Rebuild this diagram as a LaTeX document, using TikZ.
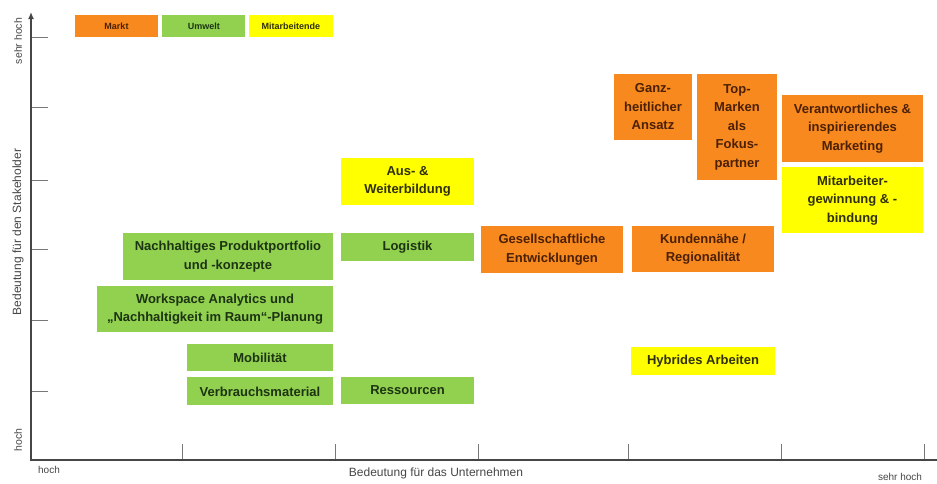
\documentclass[tikz,border=0pt]{standalone}
\usepackage{fontspec}
\setmainfont{Liberation Sans}
\usetikzlibrary{arrows.meta, positioning}
\definecolor{marktorange}{RGB}{247,137,30}
\definecolor{umweltgruen}{RGB}{146,208,80}
\definecolor{mitarbeitergelb}{RGB}{255,255,0}
\definecolor{achsgrau}{RGB}{70,70,70}
\definecolor{tickgrau}{RGB}{120,120,120}
\tikzset{
  feld/.style={rectangle,inner sep=1pt,align=center,font=\bfseries\fontsize{13}{18.5}\selectfont},
  markt/.style={feld,fill=marktorange,text={rgb,255:red,75;green,32;blue,5}},
  umwelt/.style={feld,fill=umweltgruen,text={rgb,255:red,28;green,52;blue,18}},
  mitarbeiter/.style={feld,fill=mitarbeitergelb,text={rgb,255:red,48;green,48;blue,12}},
  legende/.style={font=\bfseries\fontsize{9}{10}\selectfont,minimum width=83pt,minimum height=22pt,inner sep=0pt},
  achse/.style={draw=achsgrau,line width=1.8pt},
  tick/.style={draw=tickgrau,line width=1pt},
  achstext/.style={text=achsgrau,inner sep=0pt}
}

\begin{document}
\begin{tikzpicture}[x=1pt,y=-1pt]
\useasboundingbox (0,0) rectangle (937,483);

\coordinate (ytop) at (31,12);
\coordinate (ursprung) at (31,460);
\coordinate (xend) at (937,460);
\foreach \ty in {37,107,180,249,320,391}
  \draw[tick] (31,\ty) -- (48,\ty);
\foreach \tx in {182,335,478,628,781,924}
  \draw[tick] (\tx,444) -- (\tx,460);
\draw[achse,{Latex[length=7pt,width=6pt]}-] (ytop) -- (ursprung) -- (xend);

\node[achstext,rotate=90,font=\fontsize{10.5}{12}\selectfont] (ysehrhoch) at (18,41) {sehr hoch};
\node[achstext,rotate=90,font=\fontsize{12}{14}\selectfont] (ytitel) at (18,232) {Bedeutung für den Stakeholder};
\node[achstext,rotate=90,font=\fontsize{10.5}{12}\selectfont] (yhoch) at (18,440) {hoch};
\node[achstext,font=\fontsize{10}{12}\selectfont] (xhoch) at (49,470) {hoch};
\node[achstext,font=\fontsize{12}{14}\selectfont] (xtitel) at (436,473) {Bedeutung für das Unternehmen};
\node[achstext,font=\fontsize{10}{12}\selectfont] (xsehrhoch) at (900,477) {sehr hoch};

\node[markt,legende] (lmarkt) at (116.5,26) {Markt};
\node[umwelt,legende,right=4pt of lmarkt] (lumwelt) {Umwelt};
\node[mitarbeiter,legende,minimum width=84pt,right=3pt of lumwelt] (lmitarbeiter) {Mitarbeitende};

\node[umwelt,minimum width=210pt,minimum height=47pt] (portfolio) at (228,256.5) {Nachhaltiges Produktportfolio\\und -konzepte};
\node[umwelt,minimum width=236pt,minimum height=46pt] (workspace) at (215,309) {Workspace Analytics und\\„Nachhaltigkeit im Raum“-Planung};
\node[umwelt,minimum width=146pt,minimum height=27pt] (mobilitaet) at (260,357.5) {Mobilität};
\node[umwelt,minimum width=146pt,minimum height=28pt,below=6pt of mobilitaet] (verbrauch) {Verbrauchsmaterial};
\node[umwelt,minimum width=133pt,minimum height=27pt] (ressourcen) at (407.5,390.5) {Ressourcen};
\node[umwelt,minimum width=133pt,minimum height=28pt] (logistik) at (407.5,247) {Logistik};
\node[mitarbeiter,minimum width=133pt,minimum height=47pt] (bildung) at (407.5,181.5) {Aus- \&\\Weiterbildung};

\node[markt,minimum width=142pt,minimum height=47pt] (gesellschaft) at (552,249.5) {Gesellschaftliche\\Entwicklungen};
\node[markt,minimum width=142pt,minimum height=46pt] (kunden) at (703,249) {Kundennähe /\\Regionalität};
\node[markt,minimum width=78pt,minimum height=66pt] (ganzheit) at (653,107) {Ganz-\\heitlicher\\Ansatz};
\node[markt,minimum width=80pt,minimum height=106pt] (topmarken) at (737,127) {Top-\\Marken\\als\\Fokus-\\partner};
\node[markt,minimum width=141pt,minimum height=67pt] (marketing) at (852.5,128.5) {Verantwortliches \&\\inspirierendes\\Marketing};
\node[mitarbeiter,minimum width=141pt,minimum height=66pt,below=5pt of marketing] (gewinnung) {Mitarbeiter-\\gewinnung \& -\\bindung};
\node[mitarbeiter,minimum width=144pt,minimum height=28pt] (hybrid) at (703,361) {Hybrides Arbeiten};
\end{tikzpicture}
\end{document}
